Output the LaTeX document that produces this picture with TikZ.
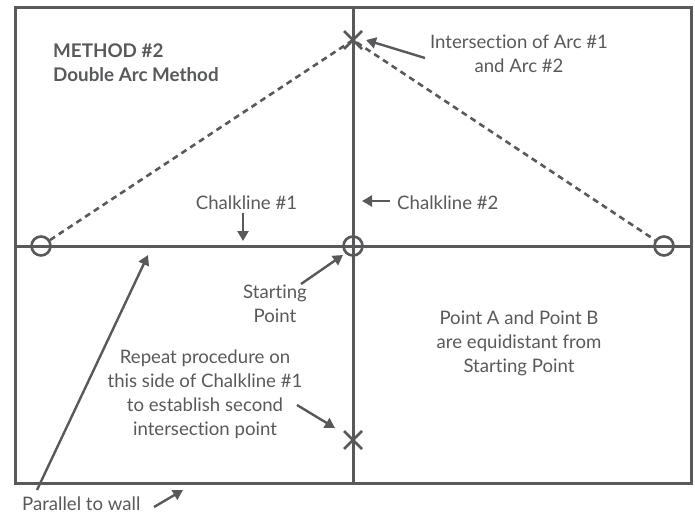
\documentclass[tikz,border=0pt]{standalone}
\usepackage{fontspec}
\setmainfont{Lato}[Ligatures=NoCommon]
\usetikzlibrary{arrows.meta,calc}
\definecolor{ink}{HTML}{58595B}
\begin{document}
\begin{tikzpicture}[x=1pt,y=-1pt,
  line/.style={draw=ink,line width=3pt},
  ptr/.style={draw=ink,line width=2.4pt,-{Triangle[length=10pt,width=11pt]}},
  lbl/.style={text=ink,font=\fontsize{18.6}{24}\selectfont,align=center,inner sep=0pt,anchor=base},
  ring/.style={circle,draw=ink,line width=2.6pt,minimum size=19pt,inner sep=0pt},
  xmark/.style={draw=ink,line width=2.6pt}]
\useasboundingbox (0,0) rectangle (695,513);
% frame and chalklines
\draw[line] (15,8) rectangle (691,483);
\coordinate (vt) at (353,8);
\coordinate (vb) at (353,483);
\coordinate (hl) at (15,246);
\coordinate (hr) at (691,246);
\draw[line] (vt) -- (vb);
\draw[line] (hl) -- (hr);
% points
\node[ring] (A) at (41,246) {};
\node[ring] (S) at (353,246) {};
\node[ring] (B) at (664,246) {};
\coordinate (X1) at (353,40);
\coordinate (X2) at (353,440);
\draw[xmark] ($(X1)+(-9,-9)$) -- ($(X1)+(9,9)$) ($(X1)+(-9,9)$) -- ($(X1)+(9,-9)$);
\draw[xmark] ($(X2)+(-9,-9)$) -- ($(X2)+(9,9)$) ($(X2)+(-9,9)$) -- ($(X2)+(9,-9)$);
% dashed arcs
\draw[draw=ink,line width=2.6pt,dash pattern=on 6pt off 4.5pt] (A) -- (X1) -- (B);
% title
\node[lbl,anchor=base west,font=\fontsize{18.8}{24.5}\selectfont\bfseries,align=left] (title) at (53,82) {METHOD \#2\\Double Arc Method};
% labels
\node[lbl] (c1) at (246.5,209) {Chalkline \#1};
\node[lbl,anchor=base west] (c2) at (397,209) {Chalkline \#2};
\node[lbl] (int) at (519,73) {Intersection of Arc \#1\\and Arc \#2};
\node[lbl] (sp) at (275,322) {Starting\\Point};
\node[lbl] (rep) at (205,435) {Repeat procedure on\\this side of Chalkline \#1\\to establish second\\intersection point};
\node[lbl] (pab) at (519,372) {Point A and Point B\\are equidistant from\\Starting Point};
\node[lbl,anchor=base west] (par) at (22,510) {Parallel to wall};
% pointers
\coordinate (c1t) at (243,241);
\coordinate (c2t) at (362,201);
\coordinate (intt) at (366,40);
\coordinate (spt) at (343,255);
\coordinate (rept) at (335,428);
\coordinate (walltip) at (183,490);
\coordinate (linetip) at (148,255);
\draw[ptr] (243,213) -- (c1t);
\draw[ptr] (390,201) -- (c2t);
\draw[ptr] (425,58) -- (intt);
\draw[ptr] (301,284) -- (spt);
\draw[ptr] (297,405) -- (rept);
\draw[ptr] (154,507) -- (walltip);
\draw[ptr] (37,490) -- (linetip);
\end{tikzpicture}
\end{document}
